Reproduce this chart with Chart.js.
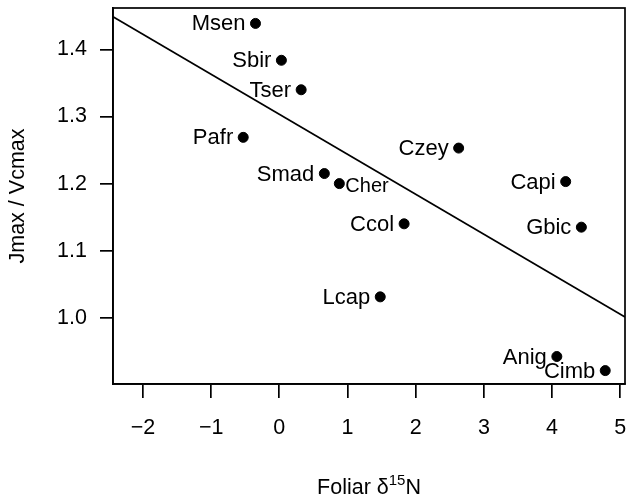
<!DOCTYPE html>
<html>
<head>
<meta charset="utf-8">
<script src="https://cdn.jsdelivr.net/npm/chart.js@4"></script>
<style>
  html, body { margin: 0; padding: 0; background: #fff; }
  #wrap { width: 628px; height: 502px; }
</style>
</head>
<body>
<div id="wrap"><canvas id="chart" width="628" height="502"></canvas></div>
<script>
// species, foliar d15N and Jmax/Vcmax
const species = ['Msen', 'Sbir', 'Tser', 'Pafr', 'Smad', 'Cher', 'Czey', 'Capi', 'Ccol', 'Gbic', 'Lcap', 'Anig', 'Cimb'];
const d15N = [-0.35, 0.03, 0.32, -0.53, 0.66, 0.88, 2.63, 4.20, 1.83, 4.43, 1.48, 4.07, 4.78];
const jvRatio = [1.439, 1.384, 1.340, 1.269, 1.215, 1.200, 1.253, 1.203, 1.140, 1.135, 1.031, 0.942, 0.921];

// fitted line, ends at the plot edges
const fitX = [-2.44, 5.07];
const fitY = [1.449, 1.001];

const xTicks = [-2, -1, 0, 1, 2, 3, 4, 5];
const yTicks = [1.0, 1.1, 1.2, 1.3, 1.4];

const FONT = '"Liberation Sans", Arial, Helvetica, sans-serif';
const rightLabels = ['Cher'];

const pointLabels = {
    id: 'pointLabels',
    afterDatasetsDraw(chart) {
        const ctx = chart.ctx;
        const meta = chart.getDatasetMeta(0);
        ctx.save();
        ctx.fillStyle = '#000';
        ctx.textBaseline = 'middle';
        meta.data.forEach((pt, i) => {
            const name = species[i];
            if (rightLabels.includes(name)) {
                ctx.font = '20px ' + FONT;
                ctx.textAlign = 'left';
                ctx.fillText(name, pt.x + 6, pt.y + 3);
            } else {
                ctx.font = '22px ' + FONT;
                ctx.textAlign = 'right';
                ctx.fillText(name, pt.x - 10, pt.y + 1);
            }
        });
        ctx.restore();
    }
};

const frame = {
    id: 'frame',
    afterDraw(chart) {
        const { ctx, chartArea: a } = chart;
        ctx.save();
        ctx.strokeStyle = '#000';
        ctx.lineWidth = 1.7;
        ctx.strokeRect(a.left, a.top, a.right - a.left, a.bottom - a.top);

        ctx.fillStyle = '#000';
        ctx.textBaseline = 'alphabetic';
        // x title with superscript
        const main1 = 'Foliar \u03b4', sup = '15', main2 = 'N';
        ctx.font = '21.5px ' + FONT;
        const w1 = ctx.measureText(main1).width, w3 = ctx.measureText(main2).width;
        ctx.font = '15px ' + FONT;
        const w2 = ctx.measureText(sup).width;
        let x = (a.left + a.right) / 2 - (w1 + w2 + w3) / 2;
        const base = 494;
        ctx.textAlign = 'left';
        ctx.font = '21.5px ' + FONT;
        ctx.fillText(main1, x, base);
        ctx.font = '15px ' + FONT;
        ctx.fillText(sup, x + w1, base - 9);
        ctx.font = '21.5px ' + FONT;
        ctx.fillText(main2, x + w1 + w2, base);

        // y title
        ctx.translate(18, (a.top + a.bottom) / 2);
        ctx.rotate(-Math.PI / 2);
        ctx.textAlign = 'center';
        ctx.textBaseline = 'middle';
        ctx.fillText('Jmax / Vcmax', 0, 0);
        ctx.restore();
    }
};

const noPad = s => { s.paddingLeft = 0; s.paddingRight = 0; s.paddingTop = 0; s.paddingBottom = 0; };

new Chart(document.getElementById('chart'), {
    type: 'scatter',
    data: {
        datasets: [
            {
                data: d15N.map((x, i) => ({ x: x, y: jvRatio[i] })),
                backgroundColor: '#000',
                borderColor: '#000',
                pointRadius: 5,
                pointHoverRadius: 5
            },
            {
                type: 'line',
                data: fitX.map((x, i) => ({ x: x, y: fitY[i] })),
                borderColor: '#000',
                borderWidth: 1.7,
                pointRadius: 0,
                fill: false
            }
        ]
    },
    options: {
        responsive: false,
        animation: false,
        events: [],
        layout: { autoPadding: false, padding: { top: 8, right: 3, left: 0, bottom: 0 } },
        plugins: { legend: { display: false }, tooltip: { enabled: false } },
        scales: {
            x: {
                type: 'linear',
                min: fitX[0], max: fitX[1],
                afterBuildTicks: s => { s.ticks = xTicks.map(v => ({ value: v })); },
                afterFit: s => { s.height = 118; noPad(s); },
                grid: { drawOnChartArea: false, drawTicks: true, tickLength: 14, color: '#000', lineWidth: 1.7 },
                border: { display: true, color: '#000', width: 1.7 },
                ticks: {
                    color: '#000', padding: 17, maxRotation: 0,
                    font: { family: FONT, size: 21.5 },
                    callback: v => (v < 0 ? '\u2212' + Math.abs(v) : String(v))
                }
            },
            y: {
                type: 'linear',
                min: 0.901, max: 1.462,
                afterBuildTicks: s => { s.ticks = yTicks.map(v => ({ value: v })); },
                afterFit: s => { s.width = 113; noPad(s); },
                grid: { drawOnChartArea: false, drawTicks: true, tickLength: 13, color: '#000', lineWidth: 1.7 },
                border: { display: true, color: '#000', width: 1.7 },
                ticks: {
                    color: '#000', padding: 13,
                    font: { family: FONT, size: 21.5 },
                    callback: v => v.toFixed(1)
                }
            }
        }
    },
    plugins: [pointLabels, frame]
});
</script>
</body>
</html>
